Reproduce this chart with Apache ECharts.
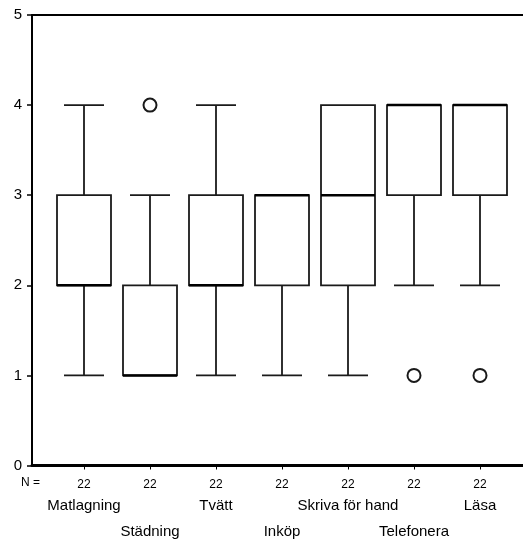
<!DOCTYPE html>
<html>
<head>
<meta charset="utf-8">
<script src="https://cdn.jsdelivr.net/npm/echarts@6/dist/echarts.min.js"></script>
<style>html,body{margin:0;padding:0;background:#fff}#c{width:523px;height:542px}</style>
</head>
<body>
<div id="c"></div>
<script>
var categories = ['Matlagning', 'Städning', 'Tvätt', 'Inköp', 'Skriva för hand', 'Telefonera', 'Läsa'];
var nValues = [22, 22, 22, 22, 22, 22, 22];
var mins = [1, 1, 1, 1, 1, 2, 2];
var q1s = [2, 1, 2, 2, 2, 3, 3];
var medians = [2, 1, 2, 3, 3, 4, 4];
var q3s = [3, 2, 3, 3, 4, 4, 4];
var maxs = [4, 3, 4, 3, 4, 4, 4];
var outliers = [[1, 4], [5, 1], [6, 1]];
var yTicks = [0, 1, 2, 3, 4, 5];

var FONT = 'Liberation Sans, Arial, sans-serif';
var LINE = '#1a1a1a';
var BOX_W = 54, CAP_W = 40;

var boxItems = categories.map(function (c, i) { return [i, mins[i], q1s[i], medians[i], q3s[i], maxs[i]]; });

function renderBox(params, api) {
  var i = api.value(0);
  var pMin = api.coord([i, api.value(1)]);
  var pQ1 = api.coord([i, api.value(2)]);
  var pMed = api.coord([i, api.value(3)]);
  var pQ3 = api.coord([i, api.value(4)]);
  var pMax = api.coord([i, api.value(5)]);
  var x = pMin[0];
  var ls = { stroke: LINE, lineWidth: 1.8, fill: null };
  var children = [];
  if (pMin[1] !== pQ1[1]) {
    children.push({ type: 'line', shape: { x1: x, y1: pMin[1], x2: x, y2: pQ1[1] }, style: ls });
    children.push({ type: 'line', shape: { x1: x - CAP_W / 2, y1: pMin[1], x2: x + CAP_W / 2, y2: pMin[1] }, style: ls });
  }
  if (pMax[1] !== pQ3[1]) {
    children.push({ type: 'line', shape: { x1: x, y1: pQ3[1], x2: x, y2: pMax[1] }, style: ls });
    children.push({ type: 'line', shape: { x1: x - CAP_W / 2, y1: pMax[1], x2: x + CAP_W / 2, y2: pMax[1] }, style: ls });
  }
  children.push({ type: 'rect', shape: { x: x - BOX_W / 2, y: pQ3[1], width: BOX_W, height: pQ1[1] - pQ3[1] },
    style: { stroke: LINE, lineWidth: 1.8, fill: '#fff' } });
  children.push({ type: 'line', shape: { x1: x - BOX_W / 2, y1: pMed[1], x2: x + BOX_W / 2, y2: pMed[1] },
    style: { stroke: '#000', lineWidth: 2.5, fill: null } });
  return { type: 'group', children: children };
}

var chart = echarts.init(document.getElementById('c'), null, { renderer: 'canvas' });
chart.setOption({
  animation: false,
  backgroundColor: '#fff',
  grid: [
    { left: 32, right: 0, top: 15, bottom: 76.5 },
    { left: 51, right: 10, top: 15, bottom: 76.5 }
  ],
  xAxis: [
    { type: 'value', gridIndex: 0, min: 0, max: 1, position: 'bottom',
      axisLine: { show: true, onZero: false, lineStyle: { color: '#000', width: 3 } },
      axisTick: { show: false }, axisLabel: { show: false }, splitLine: { show: false } },
    { type: 'value', gridIndex: 0, min: 0, max: 1, position: 'top',
      axisLine: { show: true, onZero: false, lineStyle: { color: '#000', width: 2 } },
      axisTick: { show: false }, axisLabel: { show: false }, splitLine: { show: false } },
    { type: 'category', gridIndex: 1, data: categories, boundaryGap: true,
      axisLine: { show: false },
      axisTick: { show: true, alignWithLabel: true, length: 4, lineStyle: { color: '#000', width: 1 } },
      axisLabel: {
        interval: 0, margin: 11, color: '#000', fontFamily: FONT,
        formatter: function (value, index) {
          if (index % 2 === 0) return '{n|' + nValues[index] + '}\n{a|' + value + '}';
          return '{n|' + nValues[index] + '}\n{e|\u00a0}\n{a|' + value + '}';
        },
        rich: {
          n: { fontSize: 12, lineHeight: 16, fontFamily: FONT, color: '#000' },
          a: { fontSize: 15, lineHeight: 26, fontFamily: FONT, color: '#000' },
          e: { fontSize: 15, lineHeight: 26, fontFamily: FONT, color: '#000' }
        }
      },
      splitLine: { show: false } }
  ],
  yAxis: [
    { type: 'value', gridIndex: 0, min: yTicks[0], max: yTicks[yTicks.length - 1], interval: 1,
      axisLine: { show: true, onZero: false, lineStyle: { color: '#000', width: 2 } },
      axisTick: { show: true, length: 5, lineStyle: { color: '#000', width: 1.5 } },
      axisLabel: { margin: 10, fontSize: 15, color: '#000', fontFamily: FONT },
      splitLine: { show: false } },
    { type: 'value', gridIndex: 1, min: yTicks[0], max: yTicks[yTicks.length - 1], interval: 1,
      show: false }
  ],
  graphic: [
    { type: 'text', left: 21, top: 477, style: { text: 'N =', fontSize: 12, fontFamily: FONT, fill: '#000' } }
  ],
  series: [
    { type: 'custom', xAxisIndex: 2, yAxisIndex: 1, data: boxItems, renderItem: renderBox, z: 3,
      encode: { x: 0, y: [1, 2, 3, 4, 5] }, clip: false },
    { type: 'scatter', xAxisIndex: 2, yAxisIndex: 1, data: outliers, symbol: 'circle', symbolSize: 13, z: 5,
      itemStyle: { color: '#fff', borderColor: LINE, borderWidth: 2, opacity: 1 }, emphasis: { disabled: true } }
  ]
});
</script>
</body>
</html>
